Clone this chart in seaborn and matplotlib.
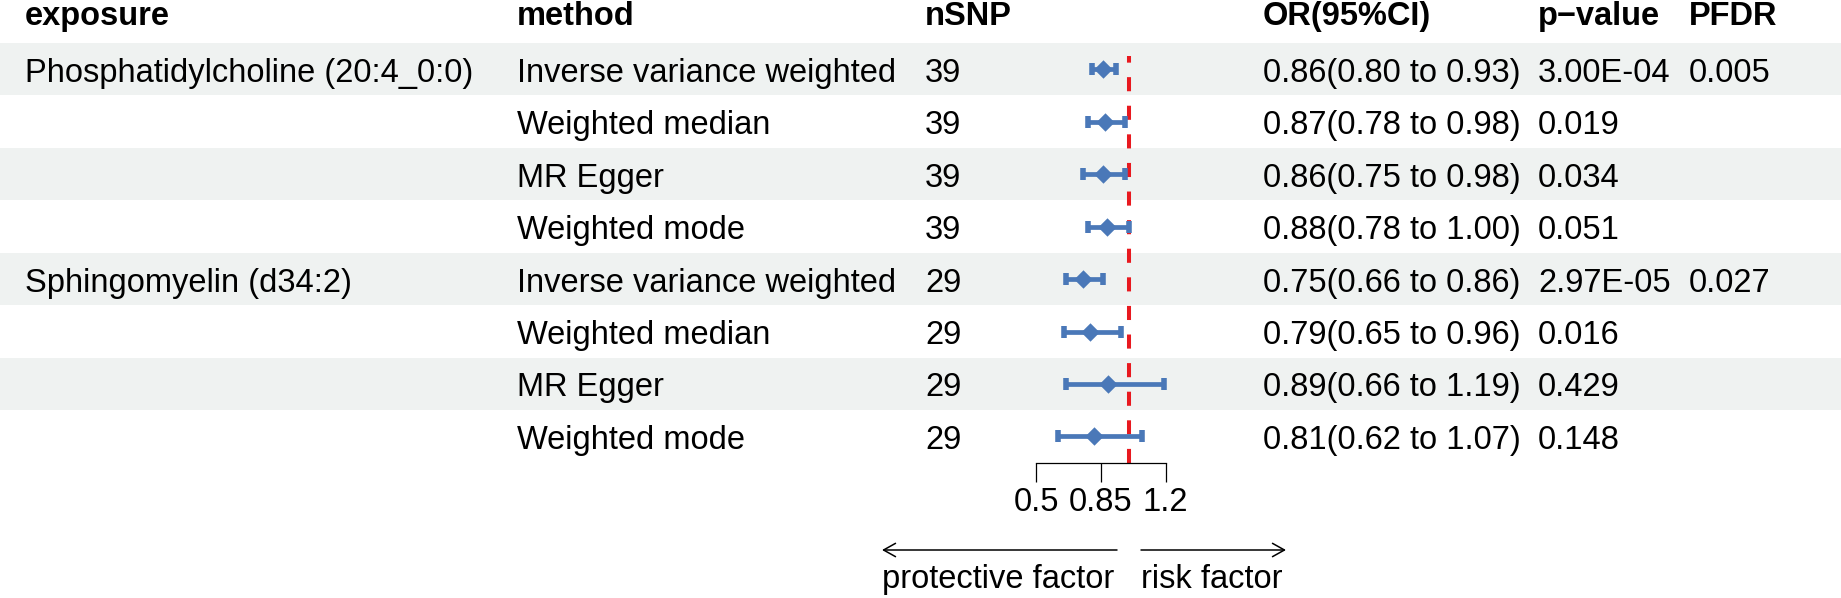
import matplotlib
matplotlib.use("Agg")
import matplotlib.pyplot as plt
import seaborn as sns
import pandas as pd

# table data
exposure = ["Phosphatidylcholine (20:4_0:0)", "", "", "", "Sphingomyelin (d34:2)", "", "", ""]
method = ["Inverse variance weighted", "Weighted median", "MR Egger", "Weighted mode"] * 2
nsnp = [39, 39, 39, 39, 29, 29, 29, 29]
or_est = [0.86, 0.87, 0.86, 0.88, 0.75, 0.79, 0.89, 0.81]
ci_lo = [0.80, 0.78, 0.75, 0.78, 0.66, 0.65, 0.66, 0.62]
ci_hi = [0.93, 0.98, 0.98, 1.00, 0.86, 0.96, 1.19, 1.07]
pval = ["3.00E-04", "0.019", "0.034", "0.051", "2.97E-05", "0.016", "0.429", "0.148"]
pfdr = ["0.005", "", "", "", "0.027", "", "", ""]
headers = ["exposure", "method", "nSNP", "OR(95%CI)", "p\u2212value", "PFDR"]
xticks = [0.5, 0.85, 1.2]
xtick_labels = ["0.5", "0.85", "1.2"]

df = pd.DataFrame({"row": range(len(or_est)), "or": or_est, "lo": ci_lo, "hi": ci_hi})
df["ci"] = [f"{o:.2f}({l:.2f} to {h:.2f})" for o, l, h in zip(or_est, ci_lo, ci_hi)]

sns.set_style("white")
plt.rcParams["font.family"] = ["Liberation Sans", "DejaVu Sans"]
plt.rcParams["text.color"] = "black"
plt.rcParams["xtick.color"] = "black"
plt.rcParams["axes.edgecolor"] = "black"

W, H = 1841, 598
FS = 23.5
band_col = "#eff2f1"
pt_col = "#4a78b8"

fig = plt.figure(figsize=(W / 100, H / 100), dpi=100)

# background / table layer in pixel coords
bg = fig.add_axes([0, 0, 1, 1])
bg.set_xlim(0, W)
bg.set_ylim(H, 0)
bg.axis("off")

top, rh = 43, 52.46
col_x = [25, 517, 925, 1263, 1538, 1689]

for i in range(len(or_est)):
    if i % 2 == 0:
        bg.axhspan(top + i * rh, top + (i + 1) * rh, color=band_col, lw=0, zorder=0)

for x, h in zip(col_x, headers):
    bg.text(x, 25, h, fontsize=FS, fontweight="bold", va="baseline", ha="left")

for i in range(len(or_est)):
    yb = top + (i + 0.5) * rh + 12.5
    vals = [exposure[i], method[i], str(nsnp[i]), df["ci"][i], pval[i], pfdr[i]]
    for x, v in zip(col_x, vals):
        bg.text(x, yb, v, fontsize=FS, va="baseline", ha="left")

# direction arrows
arr = dict(arrowstyle="->,head_length=0.43,head_width=0.24", lw=1.1, color="black",
           mutation_scale=20, shrinkA=0, shrinkB=0)
bg.annotate("", xy=(882, 550), xytext=(1117, 550), arrowprops=arr)
bg.annotate("", xy=(1286, 550), xytext=(1141, 550), arrowprops=arr)
bg.text(882, 588, "protective factor", fontsize=FS, va="baseline", ha="left")
bg.text(1141, 588, "risk factor", fontsize=FS, va="baseline", ha="left")

# forest panel
ppu = 184.8            # pixels per OR unit
x_ref = 1128.7         # pixel of OR = 1
xmin, xmax = 0.3, 1.3
left_px = x_ref + (xmin - 1) * ppu
width_px = (xmax - xmin) * ppu
bottom_px = top + len(or_est) * rh
ax = fig.add_axes([left_px / W, (H - bottom_px) / H, width_px / W, (bottom_px - top) / H])
ax.patch.set_alpha(0)
ax.set_xlim(xmin, xmax)
ax.set_ylim(len(or_est) - 0.5, -0.5)

ax.axvline(1, ymax=0.97, color="#e8191f", lw=2.9, linestyle=(0, (3.5, 3.6)), zorder=1)
eb = ax.errorbar(df["or"], df["row"], xerr=[df["or"] - df["lo"], df["hi"] - df["or"]],
                 fmt="none", ecolor=pt_col, elinewidth=3.4, capsize=4.6, capthick=4.0, zorder=2)
for c in eb[1]:
    c.set_solid_capstyle("round")
sns.scatterplot(data=df, x="or", y="row", marker="D", s=88, color=pt_col,
                edgecolor=pt_col, linewidth=0, ax=ax, zorder=3)

for s in ["left", "top", "right"]:
    ax.spines[s].set_visible(False)
ax.spines["bottom"].set_bounds(xticks[0], xticks[-1])
ax.spines["bottom"].set_linewidth(0.9)
ax.set_yticks([])
ax.set_xticks(xticks)
ax.set_xticklabels(xtick_labels)
ax.tick_params(axis="x", direction="out", length=13.7, width=0.9, pad=4, labelsize=FS,
               bottom=True, colors="black")
ax.set_xlabel("")
ax.set_ylabel("")

fig.savefig("out.png", dpi=100)
